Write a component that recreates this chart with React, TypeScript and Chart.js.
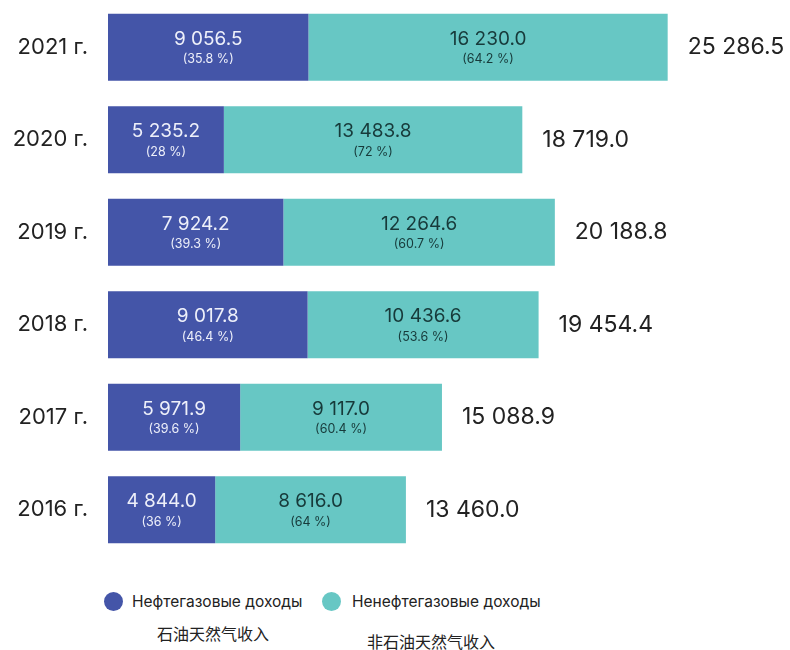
import React, { useEffect, useRef } from "react";
import { Chart, registerables } from "chart.js";

Chart.register(...registerables);

const years = ["2021 г.", "2020 г.", "2019 г.", "2018 г.", "2017 г.", "2016 г."];
const oilValues = [9056.5, 5235.2, 7924.2, 9017.8, 5971.9, 4844.0];
const oilPct = ["35.8", "28", "39.3", "46.4", "39.6", "36"];
const nonOilValues = [16230.0, 13483.8, 12264.6, 10436.6, 9117.0, 8616.0];
const nonOilPct = ["64.2", "72", "60.7", "53.6", "60.4", "64"];
const totals = [25286.5, 18719.0, 20188.8, 19454.4, 15088.9, 13460.0];

const OIL_COLOR = "#4455a8";
const NONOIL_COLOR = "#67c7c4";
const FONT = "Inter, 'Noto Sans', sans-serif";

function fmt(v: number): string {
  const [i, d] = v.toFixed(1).split(".");
  const withSp = i.replace(/\B(?=(\d{3})+(?!\d))/g, " ");
  return withSp + "." + d;
}

const labelPlugin = {
  id: "barLabels",
  afterDatasetsDraw(chart: any) {
    const ctx = chart.ctx;
    ctx.save();
    ctx.textAlign = "center";
    ctx.textBaseline = "middle";
    chart.data.datasets.forEach((ds: any, di: number) => {
      const meta = chart.getDatasetMeta(di);
      const pcts = di === 0 ? oilPct : nonOilPct;
      const color = di === 0 ? "#eef0fa" : "#173a3a";
      meta.data.forEach((bar: any, i: number) => {
        const cx = (bar.x + bar.base) / 2;
        ctx.fillStyle = color;
        ctx.font = `19px ${FONT}`;
        ctx.fillText(fmt(ds.data[i]), cx, bar.y - 8);
        ctx.font = `12.5px ${FONT}`;
        ctx.fillText(`(${pcts[i]} %)`, cx, bar.y + 12);
      });
    });
    const last = chart.getDatasetMeta(1);
    ctx.textAlign = "left";
    ctx.fillStyle = "#222222";
    ctx.font = `23px ${FONT}`;
    last.data.forEach((bar: any, i: number) => {
      ctx.fillText(fmt(totals[i]), bar.x + 20, bar.y);
    });
    ctx.restore();
  },
};

export default function App() {
  const ref = useRef<HTMLCanvasElement | null>(null);
  useEffect(() => {
    document.body.style.margin = "0";
    if (!ref.current) return;
    const chart = new Chart(ref.current, {
      type: "bar",
      data: {
        labels: years,
        datasets: [
          {
            label: "Нефтегазовые доходы",
            data: oilValues,
            backgroundColor: OIL_COLOR,
            barPercentage: 0.725,
            categoryPercentage: 1,
          },
          {
            label: "Ненефтегазовые доходы",
            data: nonOilValues,
            backgroundColor: NONOIL_COLOR,
            barPercentage: 0.725,
            categoryPercentage: 1,
          },
        ],
      },
      options: {
        indexAxis: "y",
        animation: false,
        responsive: false,
        maintainAspectRatio: false,
        layout: { padding: { top: 1, bottom: 4, left: 0, right: 18 } },
        plugins: {
          legend: { display: false },
          tooltip: { enabled: false },
        },
        scales: {
          x: {
            stacked: true,
            display: false,
            min: 0,
            max: 30000,
          },
          y: {
            stacked: true,
            grid: { display: false, drawTicks: false },
            border: { display: false },
            ticks: {
              padding: 20,
              color: "#222222",
              font: { family: FONT, size: 22 },
            },
            afterFit: (scale: any) => {
              scale.width = 108;
              scale.paddingTop = 0;
              scale.paddingBottom = 0;
            },
          },
        },
      },
      plugins: [labelPlugin],
    });
    return () => chart.destroy();
  }, []);

  const legendText: React.CSSProperties = {
    position: "absolute",
    fontFamily: FONT,
    fontSize: 15.5,
    color: "#222222",
    whiteSpace: "nowrap",
    lineHeight: "20px",
  };
  const cjk: React.CSSProperties = {
    position: "absolute",
    fontFamily: "'Noto Sans CJK SC', sans-serif",
    fontSize: 16,
    color: "#222222",
    whiteSpace: "nowrap",
    lineHeight: "22px",
  };
  const dot = (c: string, left: number): React.CSSProperties => ({
    position: "absolute",
    left,
    top: 592,
    width: 19,
    height: 19,
    borderRadius: "50%",
    background: c,
  });

  return (
    <div style={{ position: "relative", width: 790, height: 650, overflow: "hidden", background: "#fff" }}>
      <canvas ref={ref} width={790} height={560} style={{ position: "absolute", left: 0, top: 0 }} />
      <div style={dot(OIL_COLOR, 104)} />
      <div style={{ ...legendText, left: 132, top: 592 }}>Нефтегазовые доходы</div>
      <div style={dot(NONOIL_COLOR, 322)} />
      <div style={{ ...legendText, left: 352, top: 592 }}>Ненефтегазовые доходы</div>
      <div style={{ ...cjk, left: 157, top: 622 }}>石油天然气收入</div>
      <div style={{ ...cjk, left: 367, top: 630 }}>非石油天然气收入</div>
    </div>
  );
}
